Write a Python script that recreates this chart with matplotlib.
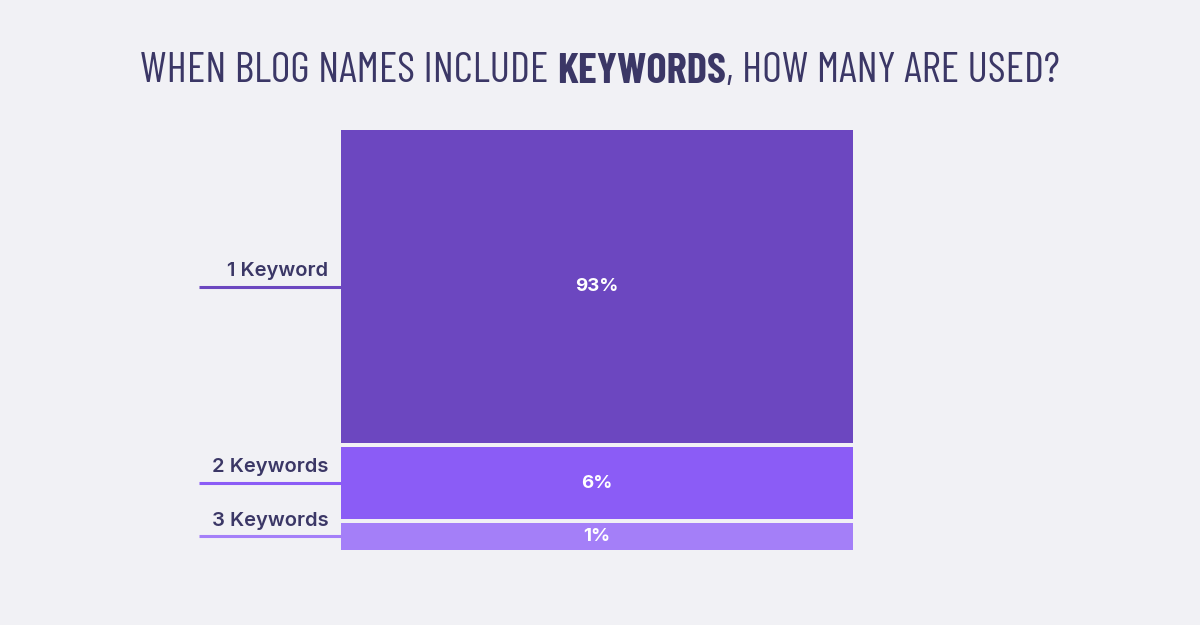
import numpy as np
import matplotlib
matplotlib.use("Agg")
import matplotlib.pyplot as plt

# data
categories = ["1 Keyword", "2 Keywords", "3 Keywords"]
shares = np.array([93, 6, 1])
value_labels = ["93%", "6%", "1%"]

bg = "#f1f1f5"
bar_colors = ["#6c47c0", "#8b5cf6", "#a47ff8"]
text_dark = "#3b3766"

# block heights are not linear in the source, roughly share ** 0.54
heights = shares ** 0.54
gap = 0.15

fig = plt.figure(figsize=(12, 6.25), dpi=100, facecolor=bg)
W, H = 1200, 625
ax = fig.add_axes([341 / W, 1 - 550 / H, (853 - 341) / W, (550 - 130) / H])
ax.set_facecolor(bg)

bottoms = []
top = heights.sum() + gap * (len(heights) - 1)
y = top
for h in heights:
    y -= h
    bottoms.append(y)
    y -= gap
bottoms = np.array(bottoms)

ax.bar(0.5, heights, width=1.0, bottom=bottoms, color=bar_colors, linewidth=0)
ax.set_xlim(0, 1)
ax.set_ylim(0, top)
ax.axis("off")

for i, cat in enumerate(categories):
    yc = bottoms[i] + heights[i] / 2
    ax.text(0.5, yc, value_labels[i], ha="center", va="center", color="white",
            fontsize=13.5, fontweight="bold", family="Inter")
    ax.plot([-0.277, 0], [yc, yc], color=bar_colors[i], lw=2.2,
            clip_on=False, solid_capstyle="butt")
    ax.annotate(cat, xy=(-0.025, yc), xytext=(0, 5), textcoords="offset points",
                ha="right", va="bottom", color=text_dark, fontsize=14.5,
                fontweight="semibold", family="Inter", annotation_clip=False)

# title in three parts, middle word bold
tfont = dict(family=["Barlow Condensed", "DejaVu Sans"], fontsize=30, color=text_dark)
t1 = fig.text(0.5, 1 - 82 / H, "WHEN BLOG NAMES INCLUDE ", ha="left", va="baseline",
              fontweight="normal", **tfont)
t2 = ax.annotate("KEYWORDS", xy=(1, 0), xycoords=t1, va="bottom", ha="left",
                 fontweight="bold", annotation_clip=False, **tfont)
t3 = ax.annotate(", HOW MANY ARE USED?", xy=(1, 0), xycoords=t2, va="bottom", ha="left",
                 fontweight="normal", annotation_clip=False, **tfont)

r = fig.canvas.get_renderer()
fig.canvas.draw()
total = t3.get_window_extent(r).x1 - t1.get_window_extent(r).x0
fs = 30 * 920 / total
for t in (t1, t2, t3):
    t.set_fontsize(fs)
fig.canvas.draw()
total = t3.get_window_extent(r).x1 - t1.get_window_extent(r).x0
t1.set_x((600 - total / 2) / W)

fig.savefig("out.png", dpi=100, facecolor=bg)
